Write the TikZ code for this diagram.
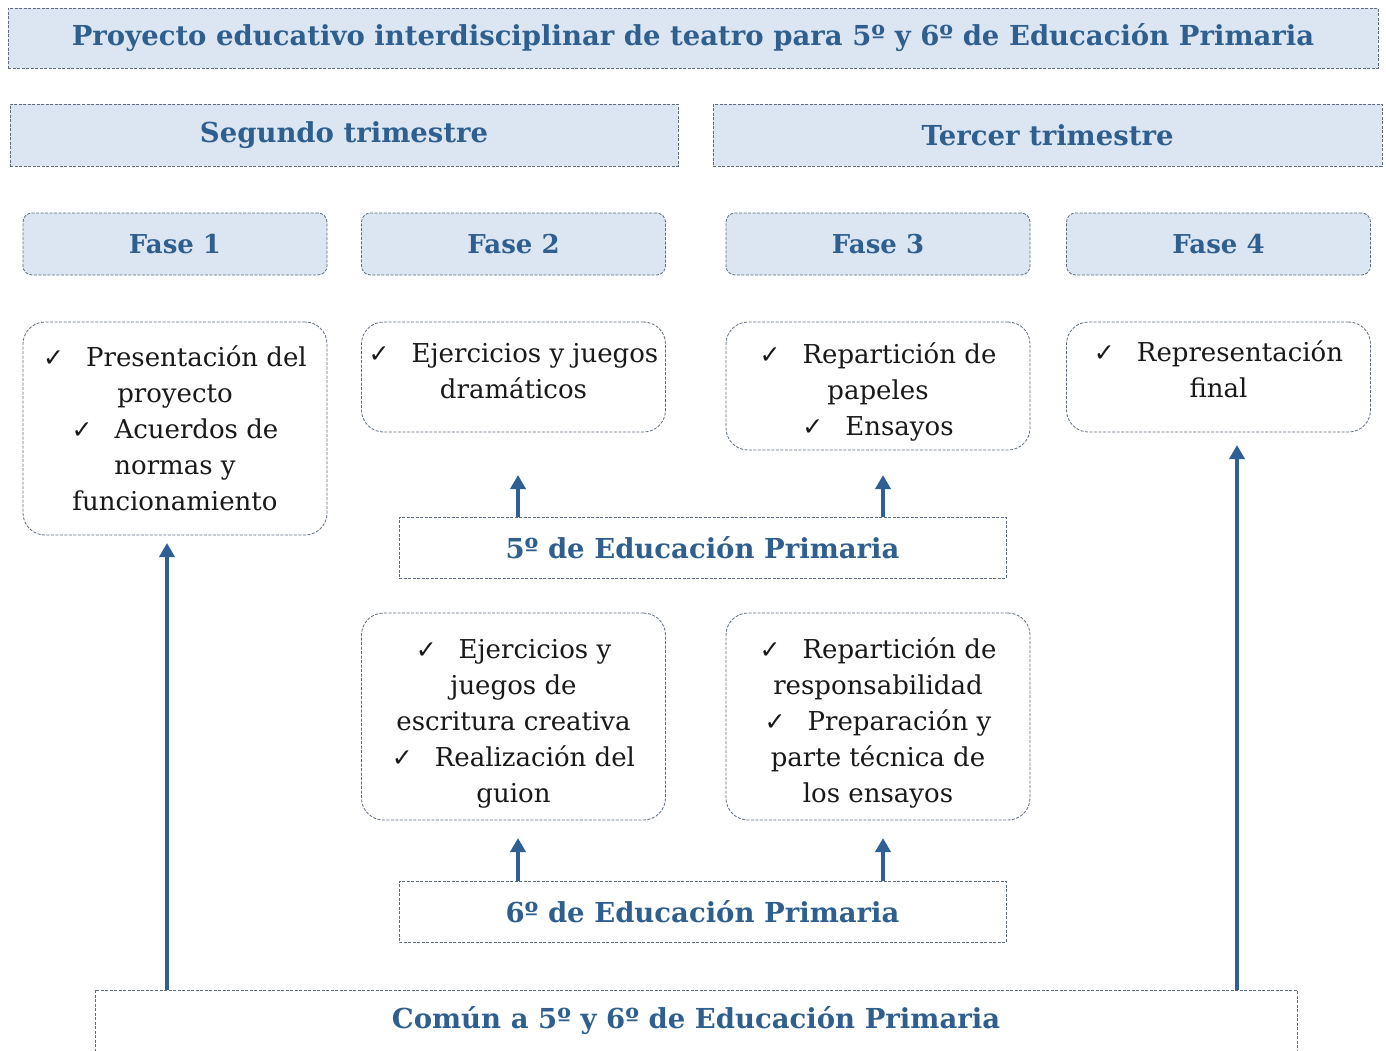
\documentclass[tikz,border=0pt]{standalone}
\usepackage{fontspec}
\setmainfont{DejaVu Serif}
\newfontfamily\symf{DejaVu Sans}
\usetikzlibrary{arrows.meta}
\definecolor{hdrfill}{HTML}{DCE6F2}
\definecolor{hdrtext}{HTML}{2F5F8F}
\definecolor{dashc}{HTML}{5E6E80}
\definecolor{arrc}{HTML}{2E6096}
\newcommand{\ck}{{\symf\fontsize{25}{36}\selectfont ✓}\hspace{22pt}}
% #1 extra height (moves text down by half), #2 extra depth (moves text up by half)
\newcommand{\lines}[3]{\raisebox{0pt}[\dimexpr\height+#1\relax][\dimexpr\depth+#2\relax]{\begin{tabular}{@{}c@{}}#3\end{tabular}}}
\tikzset{
  every node/.style={inner sep=0pt, outer sep=0pt},
  hdr/.style={draw=dashc, line width=0.8pt, dash pattern=on 3pt off 1.5pt, fill=hdrfill,
     text=hdrtext, font=\bfseries\fontsize{27.5}{32}\selectfont},
  fasebox/.style={hdr, rounded corners=9pt, minimum width=304pt, minimum height=62pt,
     font=\bfseries\fontsize{26}{32}\selectfont},
  levelbox/.style={draw=dashc, line width=0.8pt, dash pattern=on 3pt off 1.5pt, fill=white,
     text=hdrtext, font=\bfseries\fontsize{27.5}{32}\selectfont, minimum width=607pt, minimum height=61pt},
  content/.style={draw=dashc, line width=0.8pt, dash pattern=on 3pt off 1.5pt, fill=white,
     rounded corners=22pt, minimum width=304pt, text=black!90,
     font=\fontsize{26}{36}\selectfont},
  arr/.style={draw=arrc, line width=4pt, -{Triangle[width=15pt,length=14pt]}},
}
\begin{document}
\begin{tikzpicture}[x=1pt,y=-1pt]
\useasboundingbox (0,0) rectangle (1386,1050);
\clip (0,0) rectangle (1386,1050);

\node[hdr, minimum width=1370pt, minimum height=60pt] (title) at (693,38)
  {Proyecto educativo interdisciplinar de teatro para 5º y 6º de Educación Primaria};
\node[hdr, minimum width=668pt, minimum height=62pt] (t2) at (344,135) {Segundo trimestre};
\node[hdr, minimum width=669pt, minimum height=62pt] (t3) at (1047.5,135) {Tercer trimestre};

\node[fasebox] (f1) at (175,244) {Fase 1};
\node[fasebox] (f2) at (513.5,244) {Fase 2};
\node[fasebox] (f3) at (878,244) {Fase 3};
\node[fasebox] (f4) at (1218.5,244) {Fase 4};

\node[content, minimum height=213pt] (b1) at (175,428.5)
  {\lines{6pt}{0pt}{\ck Presentación del\\proyecto\\\ck Acuerdos de\\normas y\\funcionamiento}};
\node[content, minimum height=110pt] (b2) at (513.5,377)
  {\lines{0pt}{8pt}{\ck Ejercicios y juegos\\dramáticos}};
\node[content, minimum height=128pt] (b3) at (878,386)
  {\lines{12pt}{0pt}{\ck Repartición de\\papeles\\\ck Ensayos}};
\node[content, minimum height=110pt] (b4) at (1218.5,377)
  {\lines{0pt}{10pt}{\ck Representación\\final}};

\node[levelbox] (p5) at (702.5,547.5) {5º de Educación Primaria};

\node[content, minimum height=207pt] (b5) at (513.5,716.5)
  {\lines{14pt}{0pt}{\ck Ejercicios y\\juegos de\\escritura creativa\\\ck Realización del\\guion}};
\node[content, minimum height=207pt] (b6) at (878,716.5)
  {\lines{14pt}{0pt}{\ck Repartición de\\responsabilidad\\\ck Preparación y\\parte técnica de\\los ensayos}};

\node[levelbox] (p6) at (702.5,911.5) {6º de Educación Primaria};

\node[levelbox, minimum width=1202pt, minimum height=62pt] (com) at (696,1021)
  {Común a 5º y 6º de Educación Primaria};

\draw[arr, shorten >=43pt] ([xshift=4.5pt]p5.north -| b2.south) -- ([xshift=4.5pt]b2.south);
\draw[arr, shorten >=25pt] ([xshift=5pt]p5.north -| b3.south) -- ([xshift=5pt]b3.south);
\draw[arr, shorten >=18pt] ([xshift=4.5pt]p6.north -| b5.south) -- ([xshift=4.5pt]b5.south);
\draw[arr, shorten >=18pt] ([xshift=5pt]p6.north -| b6.south) -- ([xshift=5pt]b6.south);
\draw[arr, shorten >=8pt] ([xshift=-8pt]com.north -| b1.south) -- ([xshift=-8pt]b1.south);
\draw[arr, shorten >=13pt] ([xshift=18.5pt]com.north -| b4.south) -- ([xshift=18.5pt]b4.south);
\end{tikzpicture}
\end{document}
